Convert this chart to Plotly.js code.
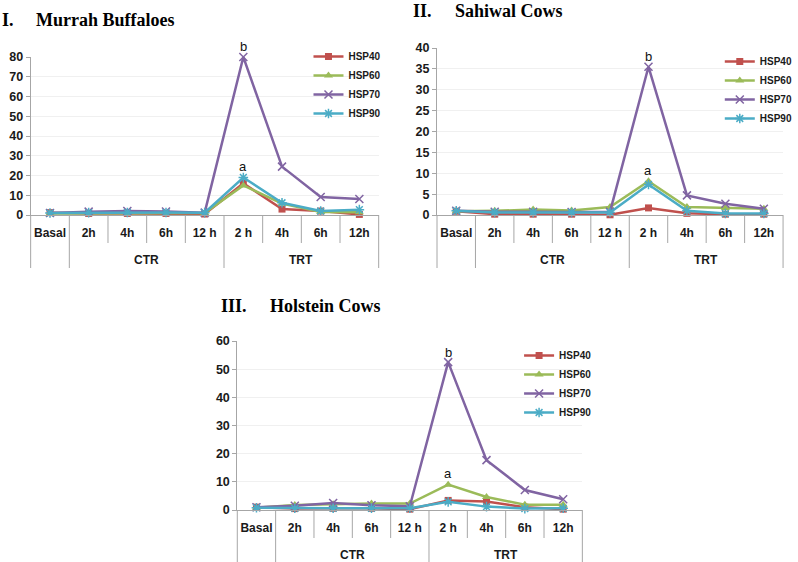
<!DOCTYPE html>
<html>
<head>
<meta charset="utf-8">
<script src="https://cdn.plot.ly/plotly-3.0.1.min.js"></script>
<style>
  html, body { margin: 0; padding: 0; background: #fff; }
  #plot { width: 798px; height: 562px; }
</style>
</head>
<body>
<div id="plot"></div>
<script>
// x categories and their groups (Basal has no group label)
let categories = ["Basal", "2h", "4h", "6h", "12 h", "2 h", "4h", "6h", "12h"];
let groups = [" ", "CTR", "CTR", "CTR", "CTR", "TRT", "TRT", "TRT", "TRT"];

let seriesNames = ["HSP40", "HSP60", "HSP70", "HSP90"];
let colors = ['#c0504d', '#9bbb59', '#8064a2', '#4bacc6'];
let symbols = ['square', 'triangle-up', 'x-thin-open', 'asterisk-open'];
let sizes = [7, 8, 8, 8];

// I. Murrah Buffaloes
let buf40 = [1.2, 0.8, 0.8, 0.8, 0.5, 16, 3, 2, 0.3];
let buf60 = [0.8, 0.8, 0.8, 0.8, 1.0, 15, 5.8, 1.5, 1.4];
let buf70 = [1.0, 1.7, 2.0, 1.8, 1.2, 80, 24.5, 9.1, 8.1];
let buf90 = [1.0, 1.2, 1.3, 1.3, 1.2, 19, 6.2, 2.0, 2.7];

// II. Sahiwal Cows
let sah40 = [0.9, 0.2, 0.2, 0.2, 0.05, 1.7, 0.4, 0.2, 0.2];
let sah60 = [0.9, 1.0, 1.3, 1.1, 1.9, 8.1, 1.9, 1.7, 1.5];
let sah70 = [1.0, 0.8, 0.8, 0.7, 0.8, 35.5, 4.7, 2.7, 1.5];
let sah90 = [1.0, 0.6, 0.6, 0.6, 0.6, 7.3, 1.0, 0.35, 0.35];

// III. Holstein Cows
let hol40 = [1.0, 0.5, 0.6, 0.6, 0.3, 3.4, 3.0, 1.0, 0.3];
let hol60 = [0.8, 1.8, 2.0, 2.3, 2.3, 9.0, 4.6, 1.9, 1.9];
let hol70 = [1.0, 1.5, 2.5, 1.7, 1.3, 52.5, 17.7, 7.1, 3.8];
let hol90 = [0.8, 0.6, 0.6, 0.6, 0.6, 2.9, 1.2, 0.5, 0.6];

let sans = "Liberation Sans, Arial, sans-serif";
let serif = "Liberation Serif, Times New Roman, serif";
let lineGrey = '#a6a6a6';
let xIdx = categories.map((c, i) => i);

let panels = [
  {num: "I.", name: "Murrah Buffaloes", data: [buf40, buf60, buf70, buf90], max: 80, dtick: 10,
   xd: [31 / 798, 383 / 798], yd: [1 - 215 / 562, 1 - 57 / 562],
   numX: 0, nameX: 34, titleY: 20, legX: 312, legY: 42},
  {num: "II.", name: "Sahiwal Cows", data: [sah40, sah60, sah70, sah90], max: 40, dtick: 5,
   xd: [442 / 798, 792 / 798], yd: [1 - 215 / 562, 1 - 48 / 562],
   numX: 416, nameX: 458, titleY: 11, legX: 728, legY: 47},
  {num: "III.", name: "Holstein Cows", data: [hol40, hol60, hol70, hol90], max: 60, dtick: 10,
   xd: [240 / 798, 589 / 798], yd: [1 - 510 / 562, 1 - 341 / 562],
   numX: 221, nameX: 271, titleY: 306, legX: 525, legY: 341}
];

let traces = [];
let annotations = [];
let shapes = [];
let layout = {
  width: 798, height: 562,
  margin: {l: 0, r: 0, t: 0, b: 0},
  paper_bgcolor: '#fff', plot_bgcolor: '#fff',
  font: {family: sans, color: '#1a1a1a'},
  hovermode: false
};

panels.forEach((p, k) => {
  let sfx = k === 0 ? '' : String(k + 1);
  let legId = 'legend' + sfx;

  p.data.forEach((vals, s) => {
    traces.push({
      x: xIdx, y: vals, name: seriesNames[s],
      xaxis: 'x' + sfx, yaxis: 'y' + sfx, legend: legId,
      type: 'scatter', mode: 'lines+markers', cliponaxis: false,
      line: {color: colors[s], width: 2.5},
      marker: {symbol: symbols[s], size: sizes[s], color: colors[s],
               line: {color: colors[s], width: symbols[s].indexOf('open') > 0 ? 1.5 : 0}}
    });
  });

  layout['xaxis' + sfx] = {
    domain: p.xd, anchor: 'y' + sfx, range: [-0.5, categories.length - 0.5],
    tickmode: 'array', tickvals: xIdx, ticktext: categories, ticks: '',
    ticklabelstandoff: 7,
    showline: true, linecolor: lineGrey, linewidth: 1,
    showgrid: false, zeroline: false, fixedrange: true,
    tickfont: {family: sans, size: 12, weight: 'bold', color: '#1a1a1a'}
  };
  layout['yaxis' + sfx] = {
    domain: p.yd, anchor: 'x' + sfx, range: [0, p.max], dtick: p.dtick, tick0: 0,
    ticks: 'outside', ticklen: 4, tickcolor: lineGrey,
    showline: true, linecolor: lineGrey, linewidth: 1,
    showgrid: true, gridcolor: '#f0f0f0', zeroline: false, fixedrange: true,
    tickfont: {family: sans, size: 12.5, weight: 'bold', color: '#1a1a1a'}
  };
  layout[legId] = {
    x: p.legX / 798, y: 1 - p.legY / 562, xanchor: 'left', yanchor: 'top',
    bgcolor: 'rgba(0,0,0,0)', itemwidth: 30, tracegroupgap: 0,
    font: {family: sans, size: 10, weight: 'bold', color: '#1a1a1a'}
  };

  // panel titles
  annotations.push({xref: 'paper', yref: 'paper', x: p.numX / 798, y: 1 - p.titleY / 562,
    xanchor: 'left', yanchor: 'middle', showarrow: false, text: p.num,
    font: {family: serif, size: 18, weight: 'bold', color: '#000'}});
  annotations.push({xref: 'paper', yref: 'paper', x: p.nameX / 798, y: 1 - p.titleY / 562,
    xanchor: 'left', yanchor: 'middle', showarrow: false, text: p.name,
    font: {family: serif, size: 18, weight: 'bold', color: '#000'}});

  // significance letters above the TRT 2 h peak
  let peakAt = 5;
  let atPeak = p.data.map(v => v[peakAt]).sort((a, b) => b - a);
  annotations.push({xref: 'x' + sfx, yref: 'y' + sfx, x: peakAt, y: atPeak[0], yshift: 10,
    showarrow: false, text: 'b', font: {family: sans, size: 13, color: '#111'}});
  annotations.push({xref: 'x' + sfx, yref: 'y' + sfx, x: peakAt, y: atPeak[1], yshift: 11,
    showarrow: false, text: 'a', font: {family: sans, size: 13, color: '#111'}});

  // group labels under the categories
  let seen = [];
  groups.forEach(g => { if (g.trim() && seen.indexOf(g) < 0) seen.push(g); });
  seen.forEach(g => {
    let idx = xIdx.filter(i => groups[i] === g);
    let mid = (idx[0] + idx[idx.length - 1]) / 2;
    annotations.push({xref: 'x' + sfx, yref: 'y' + sfx, x: mid, y: 0, yshift: -45,
      showarrow: false, text: g, font: {family: sans, size: 12, weight: 'bold', color: '#1a1a1a'}});
  });

  // category separators: short between categories, long between groups
  for (let b = 0; b <= categories.length; b++) {
    let isDivider = b === 0 || b === categories.length || groups[b - 1] !== groups[b];
    shapes.push({type: 'line', xref: 'x' + sfx + ' domain', yref: 'y' + sfx + ' domain',
      x0: b / categories.length, x1: b / categories.length,
      ysizemode: 'pixel', yanchor: 0, y0: 0, y1: isDivider ? -53 : -28,
      line: {color: lineGrey, width: 1}});
  }
});

layout.annotations = annotations;
layout.shapes = shapes;

Plotly.newPlot("plot", traces, layout, {displayModeBar: false, staticPlot: true});
</script>
</body>
</html>
